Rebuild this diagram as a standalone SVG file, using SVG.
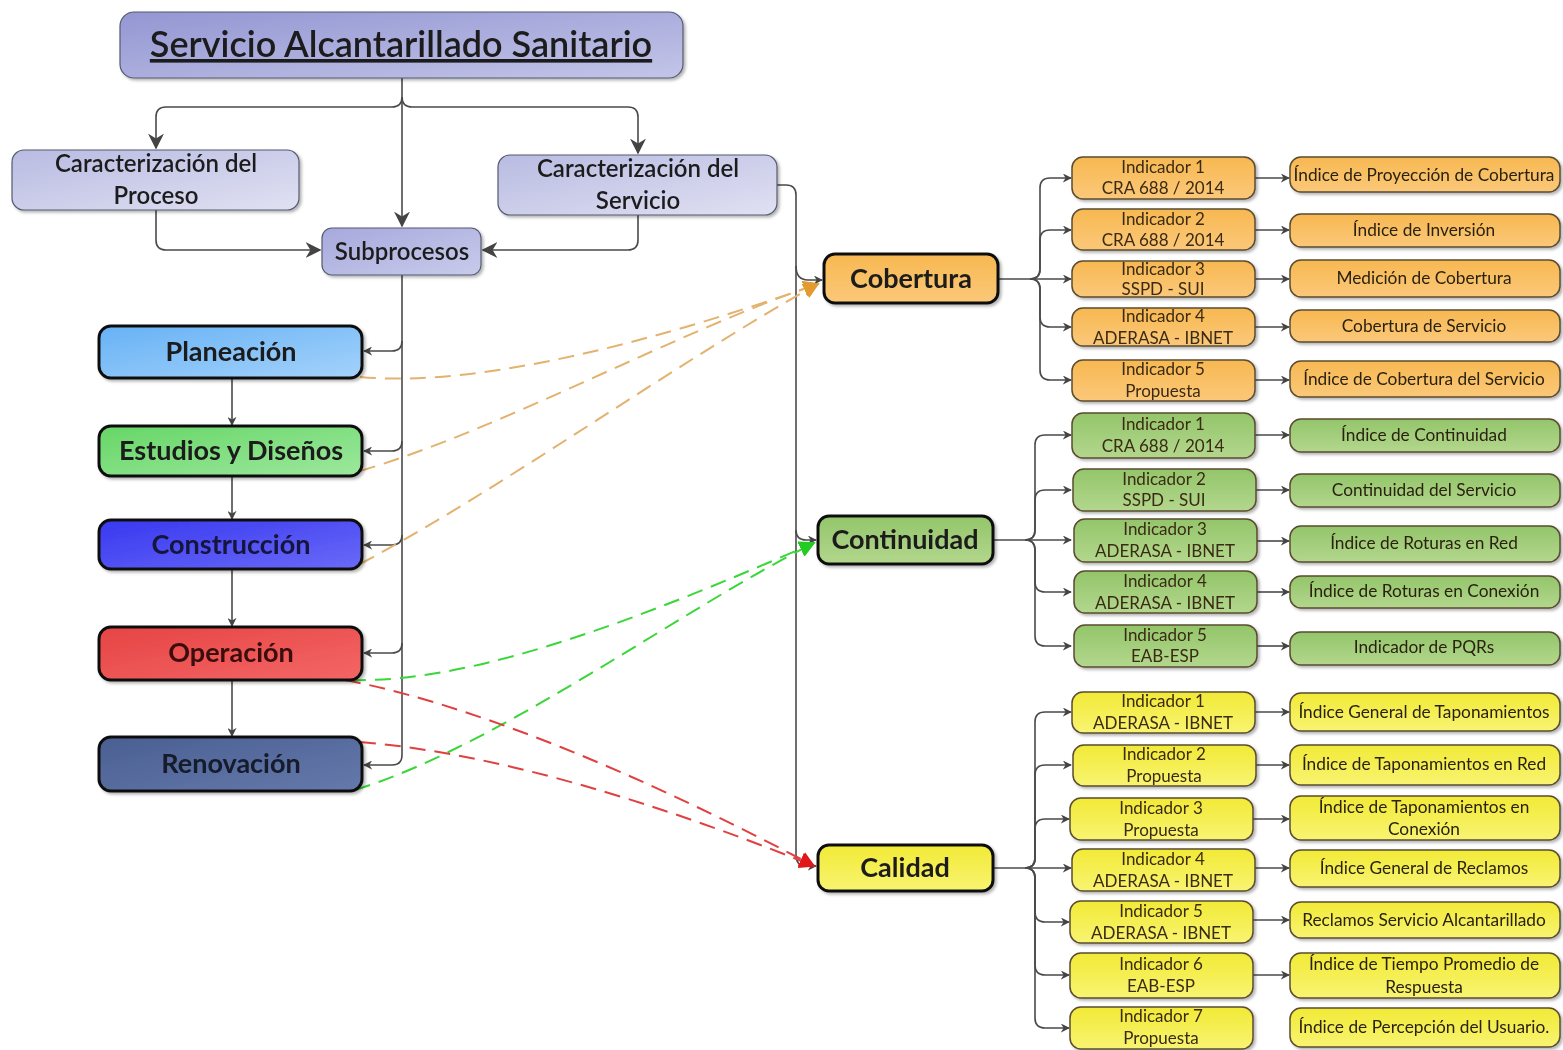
<svg xmlns="http://www.w3.org/2000/svg" width="1563" height="1050" viewBox="0 0 1563 1050">
<defs>
  <style>
    text { font-family: Lato, "Open Sans", "Liberation Sans", sans-serif; text-anchor: middle; fill: #1c1c1c; }
    .title { font-size: 36px; font-weight: 600; text-decoration: underline; }
    .car { font-size: 24px; font-weight: 600; }
    .sub { font-size: 24px; font-weight: 600; }
    .proc { font-size: 27px; font-weight: bold; }
    .dim { font-size: 27px; font-weight: bold; }
    .ind { font-size: 17px; fill: #3a2a12; }
    .res { font-size: 17.3px; fill: #2a2210; }
    .thick { stroke: #111; stroke-width: 3; }
    .thin { stroke: #5a4c30; stroke-width: 1.5; }
    .lav { stroke: #555a70; stroke-width: 1.2; }
    .conn { fill: none; stroke: #4a4a4a; stroke-width: 1.6; }
    .dash { fill: none; stroke-width: 2; stroke-dasharray: 16 9; }
    .box { filter: url(#sh); }
  </style>
  <filter id="sh" x="-10%" y="-20%" width="130%" height="150%">
    <feDropShadow dx="2" dy="2" stdDeviation="1.5" flood-color="#000" flood-opacity="0.3"/>
  </filter>
  <marker id="ar" viewBox="0 0 10 10" refX="9" refY="5" markerWidth="9" markerHeight="9" markerUnits="userSpaceOnUse" orient="auto">
    <path d="M0,0 L10,5 L0,10 L3,5 Z" fill="#444"/>
  </marker>
  <marker id="arBig" viewBox="0 0 10 10" refX="9" refY="5" markerWidth="16" markerHeight="16" markerUnits="userSpaceOnUse" orient="auto">
    <path d="M0,0 L10,5 L0,10 L3,5 Z" fill="#444"/>
  </marker>
  <marker id="arO" viewBox="0 0 10 10" refX="9" refY="5" markerWidth="16" markerHeight="16" markerUnits="userSpaceOnUse" orient="auto">
    <path d="M0,0 L10,5 L0,10 Z" fill="#e39a2e"/>
  </marker>
  <marker id="arG" viewBox="0 0 10 10" refX="9" refY="5" markerWidth="16" markerHeight="16" markerUnits="userSpaceOnUse" orient="auto">
    <path d="M0,0 L10,5 L0,10 Z" fill="#22cc22"/>
  </marker>
  <marker id="arR" viewBox="0 0 10 10" refX="9" refY="5" markerWidth="16" markerHeight="16" markerUnits="userSpaceOnUse" orient="auto">
    <path d="M0,0 L10,5 L0,10 Z" fill="#e01818"/>
  </marker>
  <linearGradient id="gTitle" x1="0" y1="0" x2="1" y2="1">
    <stop offset="0" stop-color="#9396d2"/><stop offset="1" stop-color="#c3c5e8"/>
  </linearGradient>
  <linearGradient id="gLav" x1="0" y1="0" x2="1" y2="1">
    <stop offset="0" stop-color="#b9bbe2"/><stop offset="1" stop-color="#e0e1f2"/>
  </linearGradient>
  <linearGradient id="gSub" x1="0" y1="0" x2="1" y2="1">
    <stop offset="0" stop-color="#a6a9dc"/><stop offset="1" stop-color="#c9cbeb"/>
  </linearGradient>
  <linearGradient id="gBlue" x1="0" y1="0" x2="1" y2="1">
    <stop offset="0" stop-color="#67b2f5"/><stop offset="1" stop-color="#a4d2fb"/>
  </linearGradient>
  <linearGradient id="gGreen" x1="0" y1="0" x2="1" y2="1">
    <stop offset="0" stop-color="#66d666"/><stop offset="1" stop-color="#9de89d"/>
  </linearGradient>
  <linearGradient id="gViolet" x1="0" y1="0" x2="1" y2="1">
    <stop offset="0" stop-color="#3838f0"/><stop offset="1" stop-color="#6a6af8"/>
  </linearGradient>
  <linearGradient id="gRed" x1="0" y1="0" x2="1" y2="1">
    <stop offset="0" stop-color="#e64444"/><stop offset="1" stop-color="#f46666"/>
  </linearGradient>
  <linearGradient id="gSlate" x1="0" y1="0" x2="1" y2="1">
    <stop offset="0" stop-color="#4a5f92"/><stop offset="1" stop-color="#6579ab"/>
  </linearGradient>
  <linearGradient id="gOr" x1="0" y1="0" x2="0" y2="1">
    <stop offset="0" stop-color="#f7b851"/><stop offset="1" stop-color="#fbc879"/>
  </linearGradient>
  <linearGradient id="gGr" x1="0" y1="0" x2="0" y2="1">
    <stop offset="0" stop-color="#93c56a"/><stop offset="1" stop-color="#b3d78d"/>
  </linearGradient>
  <linearGradient id="gYe" x1="0" y1="0" x2="0" y2="1">
    <stop offset="0" stop-color="#f2ea36"/><stop offset="1" stop-color="#f8f472"/>
  </linearGradient>
</defs>

<rect width="1563" height="1050" fill="#ffffff"/>

<!-- connectors -->
<g id="connectors">
  <!-- title to the three second-level boxes -->
  <path class="conn" d="M402,78 V226" marker-end="url(#arBig)"/>
  <path class="conn" d="M402,97 Q402,107 392,107 H166 Q156,107 156,117 V148" marker-end="url(#arBig)"/>
  <path class="conn" d="M402,97 Q402,107 412,107 H628 Q638,107 638,117 V153" marker-end="url(#arBig)"/>
  <path class="conn" d="M156,210 V240 Q156,250 166,250 H320" marker-end="url(#arBig)"/>
  <path class="conn" d="M638,215 V240 Q638,250 628,250 H483" marker-end="url(#arBig)"/>

  <!-- subprocesos to each stage -->
  <path class="conn" d="M402,275 V755 Q402,765 392,765 H364" marker-end="url(#ar)"/>
  <path class="conn" d="M402,341 Q402,351 392,351 H364" marker-end="url(#ar)"/>
  <path class="conn" d="M402,441 Q402,451 392,451 H364" marker-end="url(#ar)"/>
  <path class="conn" d="M402,535 Q402,545 392,545 H364" marker-end="url(#ar)"/>
  <path class="conn" d="M402,643 Q402,653 392,653 H364" marker-end="url(#ar)"/>

  <!-- stage sequence -->
  <path class="conn" d="M232,378 V425" marker-end="url(#ar)"/>
  <path class="conn" d="M232,476 V519" marker-end="url(#ar)"/>
  <path class="conn" d="M232,569 V626" marker-end="url(#ar)"/>
  <path class="conn" d="M232,680 V736" marker-end="url(#ar)"/>

  <!-- service characterization to the three dimensions -->
  <path class="conn" d="M777,185 H786 Q796,185 796,195 V855 Q796,866 806,866 H816" marker-end="url(#ar)"/>
  <path class="conn" d="M796,266 Q796,280 808,280 H822" marker-end="url(#ar)"/>
  <path class="conn" d="M796,530 Q796,540 806,540 H816" marker-end="url(#ar)"/>

  <!-- Cobertura fan-out -->
  <path class="conn" d="M998,279 H1071" marker-end="url(#ar)"/>
  <path class="conn" d="M1030,279 Q1040,279 1040,269 V188 Q1040,178 1050,178 H1071" marker-end="url(#ar)"/>
  <path class="conn" d="M1030,279 Q1040,279 1040,269 V240 Q1040,230 1050,230 H1071" marker-end="url(#ar)"/>
  <path class="conn" d="M1030,279 Q1040,279 1040,289 V317 Q1040,327 1050,327 H1071" marker-end="url(#ar)"/>
  <path class="conn" d="M1030,279 Q1040,279 1040,289 V370 Q1040,380 1050,380 H1071" marker-end="url(#ar)"/>
  <path class="conn" d="M1255,178 H1289" marker-end="url(#ar)"/>
  <path class="conn" d="M1255,230 H1289" marker-end="url(#ar)"/>
  <path class="conn" d="M1255,279 H1289" marker-end="url(#ar)"/>
  <path class="conn" d="M1255,327 H1289" marker-end="url(#ar)"/>
  <path class="conn" d="M1255,380 H1289" marker-end="url(#ar)"/>

  <!-- Continuidad fan-out -->
  <path class="conn" d="M993,540 H1071" marker-end="url(#ar)"/>
  <path class="conn" d="M1025,540 Q1035,540 1035,530 V445 Q1035,435 1045,435 H1071" marker-end="url(#ar)"/>
  <path class="conn" d="M1025,540 Q1035,540 1035,530 V500 Q1035,490 1045,490 H1071" marker-end="url(#ar)"/>
  <path class="conn" d="M1025,540 Q1035,540 1035,550 V582 Q1035,592 1045,592 H1071" marker-end="url(#ar)"/>
  <path class="conn" d="M1025,540 Q1035,540 1035,550 V636 Q1035,646 1045,646 H1071" marker-end="url(#ar)"/>
  <path class="conn" d="M1255,435 H1289" marker-end="url(#ar)"/>
  <path class="conn" d="M1255,490 H1289" marker-end="url(#ar)"/>
  <path class="conn" d="M1257,541 H1289" marker-end="url(#ar)"/>
  <path class="conn" d="M1257,592 H1289" marker-end="url(#ar)"/>
  <path class="conn" d="M1257,646 H1289" marker-end="url(#ar)"/>

  <!-- Calidad fan-out -->
  <path class="conn" d="M993,868 H1071" marker-end="url(#ar)"/>
  <path class="conn" d="M1025,868 Q1035,868 1035,858 V722 Q1035,712 1045,712 H1071" marker-end="url(#ar)"/>
  <path class="conn" d="M1025,868 Q1035,868 1035,858 V775 Q1035,765 1045,765 H1071" marker-end="url(#ar)"/>
  <path class="conn" d="M1025,868 Q1035,868 1035,858 V829 Q1035,819 1045,819 H1069" marker-end="url(#ar)"/>
  <path class="conn" d="M1025,868 Q1035,868 1035,878 V912 Q1035,922 1045,922 H1069" marker-end="url(#ar)"/>
  <path class="conn" d="M1025,868 Q1035,868 1035,878 V965 Q1035,975 1045,975 H1069" marker-end="url(#ar)"/>
  <path class="conn" d="M1025,868 Q1035,868 1035,878 V1018 Q1035,1028 1045,1028 H1069" marker-end="url(#ar)"/>
  <path class="conn" d="M1255,712 H1289" marker-end="url(#ar)"/>
  <path class="conn" d="M1255,765 H1289" marker-end="url(#ar)"/>
  <path class="conn" d="M1252,819 H1289" marker-end="url(#ar)"/>
  <path class="conn" d="M1255,868 H1289" marker-end="url(#ar)"/>
  <path class="conn" d="M1252,920 H1289" marker-end="url(#ar)"/>
  <path class="conn" d="M1252,975 H1289" marker-end="url(#ar)"/>

  <!-- stage-to-dimension relations -->
  <path class="dash" stroke="#e3b26e" d="M360,377 C480,388 660,340 818,284" marker-end="url(#arO)"/>
  <path class="dash" stroke="#e3b26e" d="M360,471 C500,430 680,330 818,284" marker-end="url(#arO)"/>
  <path class="dash" stroke="#e3b26e" d="M360,564 C500,490 680,360 818,284" marker-end="url(#arO)"/>
  <path class="dash" stroke="#3ad63a" d="M350,680 C480,684 660,610 814,543" marker-end="url(#arG)"/>
  <path class="dash" stroke="#3ad63a" d="M355,790 C500,745 680,610 814,543" marker-end="url(#arG)"/>
  <path class="dash" stroke="#e04040" d="M345,680 C500,710 690,800 814,866" marker-end="url(#arR)"/>
  <path class="dash" stroke="#e04040" d="M360,742 C520,755 700,820 814,866" marker-end="url(#arR)"/>
</g>

<!-- top level -->
<g id="n-servicio" class="box">
  <rect x="120" y="12" width="563" height="66" rx="14" fill="url(#gTitle)" class="lav"/>
  <text x="401" y="57" class="title">Servicio Alcantarillado Sanitario</text>
</g>
<g id="n-car-proceso" class="box">
  <rect x="12" y="150" width="287" height="60" rx="12" fill="url(#gLav)" class="lav"/>
  <text x="156" y="172" class="car">Caracterización del</text>
  <text x="156" y="204" class="car">Proceso</text>
</g>
<g id="n-car-servicio" class="box">
  <rect x="498" y="155" width="279" height="60" rx="12" fill="url(#gLav)" class="lav"/>
  <text x="638" y="177" class="car">Caracterización del</text>
  <text x="638" y="209" class="car">Servicio</text>
</g>
<g id="n-subprocesos" class="box">
  <rect x="322" y="228" width="159" height="47" rx="10" fill="url(#gSub)" class="lav"/>
  <text x="402" y="260" class="sub">Subprocesos</text>
</g>

<!-- stages -->
<g id="n-planeacion" class="box">
  <rect x="99" y="326" width="263" height="52" rx="12" fill="url(#gBlue)" class="thick"/>
  <text x="231" y="361" class="proc">Planeación</text>
</g>
<g id="n-estudios" class="box">
  <rect x="99" y="426" width="263" height="50" rx="12" fill="url(#gGreen)" class="thick"/>
  <text x="231" y="460" class="proc">Estudios y Diseños</text>
</g>
<g id="n-construccion" class="box">
  <rect x="99" y="520" width="263" height="49" rx="12" fill="url(#gViolet)" class="thick"/>
  <text x="231" y="554" class="proc" style="fill:#14143c">Construcción</text>
</g>
<g id="n-operacion" class="box">
  <rect x="99" y="627" width="263" height="53" rx="12" fill="url(#gRed)" class="thick"/>
  <text x="231" y="662" class="proc" style="fill:#3a0e0e">Operación</text>
</g>
<g id="n-renovacion" class="box">
  <rect x="99" y="737" width="263" height="54" rx="12" fill="url(#gSlate)" class="thick"/>
  <text x="231" y="773" class="proc" style="fill:#141a2a">Renovación</text>
</g>

<!-- dimensions -->
<g id="n-cobertura" class="box">
  <rect x="824" y="254" width="174" height="49" rx="11" fill="url(#gOr)" class="thick"/>
  <text x="911" y="288" class="dim">Cobertura</text>
</g>
<g id="n-continuidad" class="box">
  <rect x="818" y="516" width="175" height="48" rx="11" fill="url(#gGr)" class="thick"/>
  <text x="905" y="549" class="dim">Continuidad</text>
</g>
<g id="n-calidad" class="box">
  <rect x="818" y="845" width="175" height="46" rx="11" fill="url(#gYe)" class="thick"/>
  <text x="905" y="877" class="dim">Calidad</text>
</g>

<!-- Cobertura indicators -->
<g id="n-cob-i1" class="box"><rect x="1072" y="157" width="183" height="42" rx="11" fill="url(#gOr)" class="thin"/><text x="1163" y="173" class="ind">Indicador 1</text><text x="1163" y="194" class="ind">CRA 688 / 2014</text></g>
<g id="n-cob-i2" class="box"><rect x="1072" y="209" width="183" height="41" rx="11" fill="url(#gOr)" class="thin"/><text x="1163" y="225" class="ind">Indicador 2</text><text x="1163" y="246" class="ind">CRA 688 / 2014</text></g>
<g id="n-cob-i3" class="box"><rect x="1072" y="261" width="183" height="36" rx="11" fill="url(#gOr)" class="thin"/><text x="1163" y="275" class="ind">Indicador 3</text><text x="1163" y="295" class="ind">SSPD - SUI</text></g>
<g id="n-cob-i4" class="box"><rect x="1072" y="308" width="183" height="38" rx="11" fill="url(#gOr)" class="thin"/><text x="1163" y="322" class="ind">Indicador 4</text><text x="1163" y="344" class="ind">ADERASA - IBNET</text></g>
<g id="n-cob-i5" class="box"><rect x="1072" y="360" width="183" height="41" rx="11" fill="url(#gOr)" class="thin"/><text x="1163" y="375" class="ind">Indicador  5</text><text x="1163" y="397" class="ind">Propuesta</text></g>

<g id="n-cob-r1" class="box"><rect x="1290" y="157" width="270" height="35" rx="11" fill="url(#gOr)" class="thin"/><text x="1424" y="181" class="res">Índice de Proyección de Cobertura</text></g>
<g id="n-cob-r2" class="box"><rect x="1290" y="214" width="270" height="33" rx="11" fill="url(#gOr)" class="thin"/><text x="1424" y="236" class="res">Índice de Inversión</text></g>
<g id="n-cob-r3" class="box"><rect x="1290" y="260" width="270" height="37" rx="11" fill="url(#gOr)" class="thin"/><text x="1424" y="284" class="res">Medición de Cobertura</text></g>
<g id="n-cob-r4" class="box"><rect x="1290" y="310" width="270" height="32" rx="11" fill="url(#gOr)" class="thin"/><text x="1424" y="332" class="res">Cobertura de Servicio</text></g>
<g id="n-cob-r5" class="box"><rect x="1290" y="361" width="270" height="36" rx="11" fill="url(#gOr)" class="thin"/><text x="1424" y="385" class="res">Índice de Cobertura del Servicio</text></g>

<!-- Continuidad indicators -->
<g id="n-con-i1" class="box"><rect x="1072" y="413" width="183" height="45" rx="11" fill="url(#gGr)" class="thin"/><text x="1163" y="430" class="ind">Indicador 1</text><text x="1163" y="452" class="ind">CRA 688 / 2014</text></g>
<g id="n-con-i2" class="box"><rect x="1073" y="469" width="183" height="42" rx="11" fill="url(#gGr)" class="thin"/><text x="1164" y="485" class="ind">Indicador 2</text><text x="1164" y="506" class="ind">SSPD - SUI</text></g>
<g id="n-con-i3" class="box"><rect x="1074" y="519" width="183" height="43" rx="11" fill="url(#gGr)" class="thin"/><text x="1165" y="535" class="ind">Indicador 3</text><text x="1165" y="557" class="ind">ADERASA - IBNET</text></g>
<g id="n-con-i4" class="box"><rect x="1074" y="571" width="183" height="42" rx="11" fill="url(#gGr)" class="thin"/><text x="1165" y="587" class="ind">Indicador 4</text><text x="1165" y="609" class="ind">ADERASA - IBNET</text></g>
<g id="n-con-i5" class="box"><rect x="1074" y="625" width="183" height="42" rx="11" fill="url(#gGr)" class="thin"/><text x="1165" y="641" class="ind">Indicador 5</text><text x="1165" y="662" class="ind">EAB-ESP</text></g>

<g id="n-con-r1" class="box"><rect x="1290" y="419" width="270" height="33" rx="11" fill="url(#gGr)" class="thin"/><text x="1424" y="441" class="res">Índice de Continuidad</text></g>
<g id="n-con-r2" class="box"><rect x="1290" y="474" width="270" height="33" rx="11" fill="url(#gGr)" class="thin"/><text x="1424" y="496" class="res">Continuidad del Servicio</text></g>
<g id="n-con-r3" class="box"><rect x="1290" y="526" width="270" height="36" rx="11" fill="url(#gGr)" class="thin"/><text x="1424" y="549" class="res">Índice de Roturas en Red</text></g>
<g id="n-con-r4" class="box"><rect x="1290" y="576" width="270" height="32" rx="11" fill="url(#gGr)" class="thin"/><text x="1424" y="597" class="res">Índice de Roturas en Conexión</text></g>
<g id="n-con-r5" class="box"><rect x="1290" y="632" width="270" height="33" rx="11" fill="url(#gGr)" class="thin"/><text x="1424" y="653" class="res">Indicador de PQRs</text></g>

<!-- Calidad indicators -->
<g id="n-cal-i1" class="box"><rect x="1072" y="692" width="183" height="41" rx="11" fill="url(#gYe)" class="thin"/><text x="1163" y="707" class="ind">Indicador 1</text><text x="1163" y="729" class="ind">ADERASA - IBNET</text></g>
<g id="n-cal-i2" class="box"><rect x="1073" y="745" width="183" height="41" rx="11" fill="url(#gYe)" class="thin"/><text x="1164" y="760" class="ind">Indicador 2</text><text x="1164" y="782" class="ind">Propuesta</text></g>
<g id="n-cal-i3" class="box"><rect x="1070" y="798" width="183" height="42" rx="11" fill="url(#gYe)" class="thin"/><text x="1161" y="814" class="ind">Indicador 3</text><text x="1161" y="836" class="ind">Propuesta</text></g>
<g id="n-cal-i4" class="box"><rect x="1072" y="849" width="183" height="42" rx="11" fill="url(#gYe)" class="thin"/><text x="1163" y="865" class="ind">Indicador 4</text><text x="1163" y="887" class="ind">ADERASA - IBNET</text></g>
<g id="n-cal-i5" class="box"><rect x="1070" y="901" width="183" height="42" rx="11" fill="url(#gYe)" class="thin"/><text x="1161" y="917" class="ind">Indicador 5</text><text x="1161" y="939" class="ind">ADERASA - IBNET</text></g>
<g id="n-cal-i6" class="box"><rect x="1070" y="953" width="183" height="45" rx="11" fill="url(#gYe)" class="thin"/><text x="1161" y="970" class="ind">Indicador  6</text><text x="1161" y="992" class="ind">EAB-ESP</text></g>
<g id="n-cal-i7" class="box"><rect x="1070" y="1007" width="183" height="42" rx="11" fill="url(#gYe)" class="thin"/><text x="1161" y="1022" class="ind">Indicador 7</text><text x="1161" y="1044" class="ind">Propuesta</text></g>

<g id="n-cal-r1" class="box"><rect x="1290" y="693" width="270" height="38" rx="11" fill="url(#gYe)" class="thin"/><text x="1424" y="718" class="res">Índice General de Taponamientos</text></g>
<g id="n-cal-r2" class="box"><rect x="1290" y="745" width="270" height="40" rx="11" fill="url(#gYe)" class="thin"/><text x="1424" y="770" class="res">Índice de Taponamientos en Red</text></g>
<g id="n-cal-r3" class="box"><rect x="1290" y="796" width="270" height="44" rx="11" fill="url(#gYe)" class="thin"/><text x="1424" y="813" class="res">Índice de Taponamientos en</text><text x="1424" y="835" class="res">Conexión</text></g>
<g id="n-cal-r4" class="box"><rect x="1290" y="850" width="270" height="37" rx="11" fill="url(#gYe)" class="thin"/><text x="1424" y="874" class="res">Índice General de Reclamos</text></g>
<g id="n-cal-r5" class="box"><rect x="1290" y="902" width="270" height="36" rx="11" fill="url(#gYe)" class="thin"/><text x="1424" y="926" class="res">Reclamos Servicio Alcantarillado</text></g>
<g id="n-cal-r6" class="box"><rect x="1290" y="953" width="270" height="45" rx="11" fill="url(#gYe)" class="thin"/><text x="1424" y="970" class="res">Índice de Tiempo Promedio de</text><text x="1424" y="993" class="res">Respuesta</text></g>
<g id="n-cal-r7" class="box"><rect x="1290" y="1008" width="270" height="39" rx="11" fill="url(#gYe)" class="thin"/><text x="1424" y="1033" class="res">Índice de Percepción del Usuario.</text></g>
</svg>
